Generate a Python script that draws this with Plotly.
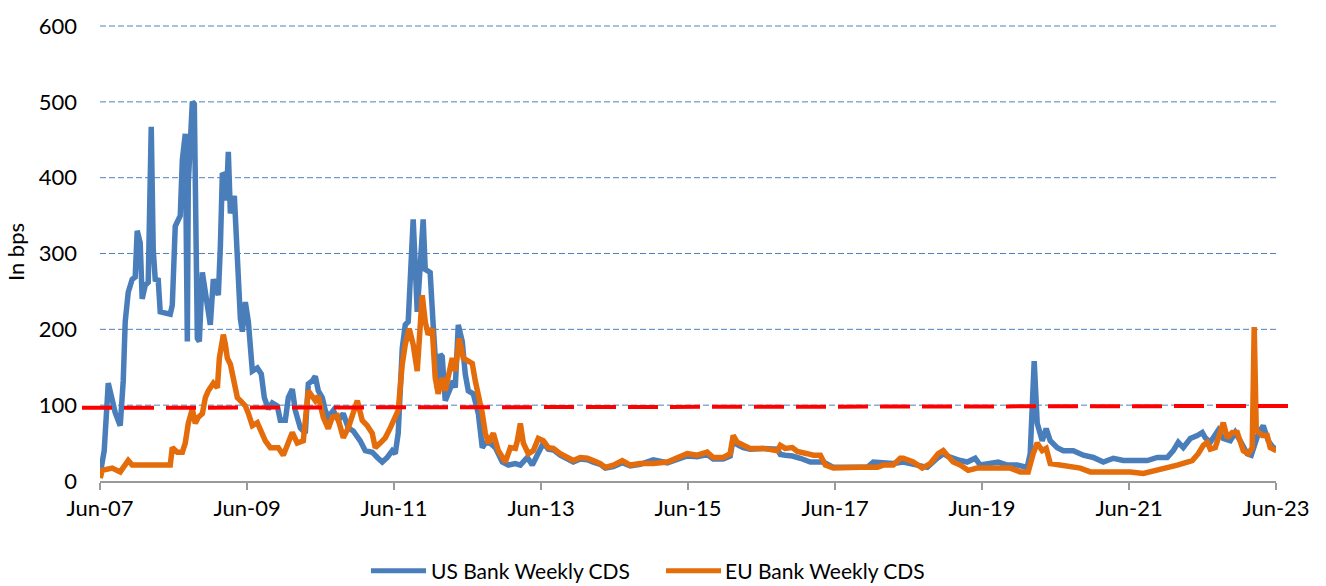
import pandas as pd
import plotly.graph_objects as go

# Weekly bank CDS spreads (bps); dates given as decimal years
us_t = [2007.417, 2007.471, 2007.526, 2007.580, 2007.621, 2007.689, 2007.730, 2007.757, 2007.798, 2007.852,
        2007.893, 2007.920, 2007.961, 2007.988, 2008.029, 2008.070, 2008.111, 2008.138, 2008.165, 2008.206,
        2008.233, 2008.369, 2008.397, 2008.437, 2008.505, 2008.533, 2008.573, 2008.601, 2008.614, 2008.669,
        2008.696, 2008.737, 2008.764, 2008.805, 2008.846, 2008.913, 2008.954, 2009.022, 2009.050, 2009.077,
        2009.104, 2009.131, 2009.158, 2009.186, 2009.240, 2009.281, 2009.322, 2009.349, 2009.390, 2009.431,
        2009.485, 2009.553, 2009.607, 2009.648, 2009.703, 2009.757, 2009.825, 2009.866, 2009.934, 2009.975,
        2010.029, 2010.070, 2010.138, 2010.206, 2010.247, 2010.301, 2010.342, 2010.383, 2010.437, 2010.478,
        2010.519, 2010.587, 2010.655, 2010.723, 2010.791, 2010.859, 2010.954, 2011.022, 2011.117, 2011.186,
        2011.254, 2011.322, 2011.390, 2011.431, 2011.471, 2011.526, 2011.567, 2011.607, 2011.675, 2011.703,
        2011.730, 2011.771, 2011.811, 2011.839, 2011.906, 2011.947, 2012.002, 2012.043, 2012.070, 2012.111,
        2012.179, 2012.220, 2012.247, 2012.288, 2012.342, 2012.383, 2012.424, 2012.492, 2012.560, 2012.614,
        2012.655, 2012.723, 2012.791, 2012.886, 2012.968, 2013.063, 2013.131, 2013.226, 2013.294, 2013.362,
        2013.444, 2013.512, 2013.580, 2013.675, 2013.770, 2013.852, 2013.947, 2014.043, 2014.124, 2014.220,
        2014.288, 2014.397, 2014.519, 2014.628, 2014.764, 2014.941, 2015.131, 2015.267, 2015.403, 2015.539,
        2015.675, 2015.757, 2015.893, 2015.988, 2016.029, 2016.084, 2016.165, 2016.260, 2016.437, 2016.628,
        2016.669, 2016.736, 2016.832, 2016.941, 2017.077, 2017.254, 2017.390, 2017.580, 2017.757, 2017.852,
        2017.934, 2018.070, 2018.206, 2018.342, 2018.532, 2018.669, 2018.804, 2018.886, 2018.940, 2019.022,
        2019.117, 2019.212, 2019.321, 2019.389, 2019.525, 2019.634, 2019.757, 2019.893, 2020.029, 2020.070,
        2020.124, 2020.165, 2020.233, 2020.287, 2020.342, 2020.437, 2020.519, 2020.655, 2020.791, 2020.927,
        2021.063, 2021.199, 2021.335, 2021.526, 2021.661, 2021.797, 2021.933, 2022.015, 2022.083, 2022.151,
        2022.247, 2022.342, 2022.410, 2022.451, 2022.519, 2022.628, 2022.696, 2022.791, 2022.859, 2022.927,
        2023.022, 2023.077, 2023.117, 2023.172, 2023.240, 2023.308, 2023.376, 2023.420]
us_cds = [10, 40, 129, 103, 90, 73, 132, 210, 249, 266,
          269, 330, 314, 240, 258, 262, 467, 305, 266, 265,
          223, 220, 232, 336, 350, 423, 458, 184, 393, 500,
          497, 188, 184, 275, 245, 206, 266, 245, 310, 406,
          403, 370, 434, 353, 376, 275, 214, 197, 236, 210,
          145, 149, 141, 110, 95, 103, 99, 80, 80, 110,
          121, 93, 70, 63, 128, 132, 138, 119, 110, 93,
          84, 93, 80, 89, 70, 66, 53, 40, 38, 31,
          25, 31, 40, 36, 63, 175, 206, 210, 345, 284,
          223, 284, 345, 279, 275, 206, 123, 167, 164, 106,
          123, 132, 123, 206, 184, 141, 119, 115, 89, 44,
          50, 50, 44, 25, 21, 23, 21, 31, 21, 36,
          50, 42, 41, 34, 29, 25, 29, 28, 25, 22,
          17, 19, 24, 20, 22, 28, 24, 28, 33, 32,
          35, 29, 29, 33, 55, 48, 44, 42, 43, 42,
          35, 34, 33, 30, 25, 25, 18, 18, 18, 18,
          25, 24, 23, 25, 21, 18, 30, 36, 33, 30,
          27, 25, 30, 21, 23, 25, 21, 21, 18, 36,
          158, 76, 53, 69, 53, 44, 40, 40, 34, 31,
          25, 30, 27, 27, 27, 31, 31, 40, 51, 44,
          56, 60, 64, 57, 51, 67, 56, 53, 64, 53,
          36, 34, 45, 62, 73, 53, 44, 43]

eu_t = [2007.417, 2007.444, 2007.580, 2007.689, 2007.798, 2007.852, 2008.369, 2008.397, 2008.465, 2008.533,
        2008.573, 2008.614, 2008.669, 2008.709, 2008.750, 2008.805, 2008.846, 2008.886, 2008.954, 2009.009,
        2009.036, 2009.090, 2009.118, 2009.145, 2009.186, 2009.226, 2009.281, 2009.322, 2009.390, 2009.431,
        2009.485, 2009.553, 2009.594, 2009.662, 2009.730, 2009.839, 2009.907, 2009.975, 2010.029, 2010.097,
        2010.179, 2010.247, 2010.301, 2010.342, 2010.383, 2010.451, 2010.519, 2010.573, 2010.641, 2010.723,
        2010.791, 2010.859, 2010.914, 2010.981, 2011.050, 2011.117, 2011.158, 2011.226, 2011.295, 2011.363,
        2011.431, 2011.471, 2011.526, 2011.567, 2011.621, 2011.675, 2011.730, 2011.771, 2011.798, 2011.839,
        2011.879, 2011.934, 2011.975, 2012.015, 2012.070, 2012.111, 2012.152, 2012.206, 2012.247, 2012.301,
        2012.356, 2012.410, 2012.478, 2012.519, 2012.560, 2012.614, 2012.655, 2012.696, 2012.764, 2012.832,
        2012.927, 2012.995, 2013.063, 2013.090, 2013.131, 2013.172, 2013.240, 2013.308, 2013.376, 2013.444,
        2013.512, 2013.580, 2013.675, 2013.770, 2013.852, 2013.947, 2014.043, 2014.124, 2014.220, 2014.288,
        2014.397, 2014.519, 2014.628, 2014.764, 2014.941, 2015.131, 2015.267, 2015.403, 2015.539, 2015.675,
        2015.757, 2015.893, 2015.988, 2016.029, 2016.084, 2016.165, 2016.260, 2016.437, 2016.628, 2016.669,
        2016.736, 2016.832, 2016.900, 2017.036, 2017.117, 2017.213, 2017.281, 2017.390, 2017.580, 2017.757,
        2017.988, 2018.070, 2018.206, 2018.301, 2018.342, 2018.478, 2018.600, 2018.709, 2018.818, 2018.886,
        2018.940, 2019.022, 2019.117, 2019.226, 2019.349, 2019.525, 2019.662, 2019.798, 2019.934, 2020.042,
        2020.110, 2020.165, 2020.233, 2020.287, 2020.342, 2020.478, 2020.614, 2020.750, 2020.886, 2021.063,
        2021.253, 2021.430, 2021.607, 2021.797, 2021.933, 2022.070, 2022.206, 2022.274, 2022.355, 2022.424,
        2022.478, 2022.519, 2022.587, 2022.655, 2022.696, 2022.750, 2022.818, 2022.886, 2022.927, 2022.968,
        2023.036, 2023.090, 2023.117, 2023.145, 2023.226, 2023.294, 2023.335, 2023.420]
eu_cds = [4, 14, 17, 12, 27, 21, 21, 44, 38, 38,
          50, 76, 95, 76, 84, 89, 110, 119, 129, 123,
          162, 193, 180, 162, 154, 132, 110, 106, 99, 89,
          73, 77, 66, 53, 44, 44, 34, 53, 64, 50,
          53, 119, 112, 106, 112, 84, 69, 84, 86, 57,
          70, 89, 106, 80, 73, 63, 44, 50, 57, 70,
          84, 93, 154, 180, 201, 180, 145, 193, 245, 210,
          193, 201, 136, 115, 136, 119, 141, 162, 145, 188,
          162, 158, 155, 132, 115, 89, 63, 50, 63, 40,
          25, 44, 43, 53, 76, 50, 36, 40, 56, 53,
          44, 43, 36, 31, 27, 31, 30, 27, 23, 18,
          21, 27, 21, 23, 23, 25, 30, 36, 34, 38,
          31, 31, 36, 60, 51, 47, 43, 43, 40, 47,
          43, 44, 39, 36, 34, 34, 21, 17, 18, 18,
          18, 21, 21, 30, 30, 25, 17, 23, 36, 40,
          34, 25, 21, 14, 17, 17, 18, 17, 12, 12,
          36, 50, 40, 43, 23, 21, 18, 17, 12, 12,
          12, 12, 10, 14, 17, 21, 25, 27, 36, 47,
          51, 42, 44, 62, 77, 57, 64, 64, 53, 40,
          36, 44, 203, 67, 60, 60, 44, 40]

# Reference level drawn as a dashed red line (bps at start and end)
threshold_level = [96.5, 99.0]

series_names = ["US Bank Weekly CDS", "EU Bank Weekly CDS"]
series_colors = ["#4A7EBB", "#E46C0A"]
y_ticks = [0, 100, 200, 300, 400, 500, 600]


def decimal_years_to_dates(values):
    dates = []
    for v in values:
        year = int(v)
        start = pd.Timestamp(year, 1, 1)
        end = pd.Timestamp(year + 1, 1, 1)
        dates.append(start + (end - start) * (v - year))
    return dates


FONT = "Lato, 'Open Sans', sans-serif"
TEXT_COLOR = "#000000"
GRID_BLUE = "#4F81BD"

fig = go.Figure()

# dashed blue horizontal gridlines at every labelled level above zero
for level in y_ticks[1:]:
    fig.add_shape(type="line", xref="paper", yref="y", x0=0, x1=1, y0=level, y1=level,
                  line=dict(color=GRID_BLUE, width=1, dash="6px,3px"), layer="below")

for name, t, vals, color in [
    (series_names[0], us_t, us_cds, series_colors[0]),
    (series_names[1], eu_t, eu_cds, series_colors[1]),
]:
    fig.add_trace(go.Scatter(
        x=decimal_years_to_dates(t), y=vals, name=name, mode="lines",
        line=dict(color=color, width=5.5, shape="linear"),
        showlegend=False, hoverinfo="x+y+name",
    ))

# dashed red threshold, running slightly past both ends of the plot area
fig.add_shape(type="line", xref="paper", yref="y",
              x0=-0.0153, x1=1.016, y0=threshold_level[0], y1=threshold_level[1],
              line=dict(color="#FF0000", width=4, dash="30px,12px"), layer="above")

# legend drawn as line samples + labels under the axis
legend_y = -0.196
legend_items = [(0.2304, 0.2772, 0.2798), (0.4813, 0.5281, 0.5298)]
for (x0, x1, xt), name, color in zip(legend_items, series_names, series_colors):
    fig.add_shape(type="line", xref="paper", yref="paper", x0=x0, x1=x1,
                  y0=legend_y, y1=legend_y, line=dict(color=color, width=5))
    fig.add_annotation(xref="paper", yref="paper", x=xt, y=legend_y, text=name,
                       showarrow=False, xanchor="left", yanchor="middle",
                       font=dict(family=FONT, size=21, color=TEXT_COLOR))

fig.update_layout(
    width=1326, height=586,
    margin=dict(l=100, r=50, t=18, b=105),
    paper_bgcolor="white", plot_bgcolor="white",
    font=dict(family=FONT, size=22, color=TEXT_COLOR),
    showlegend=False,
)
fig.update_xaxes(
    type="date",
    range=[pd.Timestamp("2007-06-01"), pd.Timestamp("2023-06-01")],
    tick0="2007-06-01", dtick="M24", tickformat="%b-%y",
    ticks="outside", ticklen=7, tickwidth=1.5, tickcolor="#9A9A9A",
    showline=True, linecolor="#9A9A9A", linewidth=2,
    showgrid=False, zeroline=False,
    tickfont=dict(family=FONT, size=22, color=TEXT_COLOR),
)
fig.update_yaxes(
    range=[0, 604], tickvals=y_ticks,
    showgrid=False, zeroline=False, showline=False, ticks="",
    ticklabelstandoff=22,
    tickfont=dict(family=FONT, size=22, color=TEXT_COLOR),
    title=dict(text="In bps", font=dict(family=FONT, size=22, color=TEXT_COLOR), standoff=8),
)

fig.write_html("out.html")
